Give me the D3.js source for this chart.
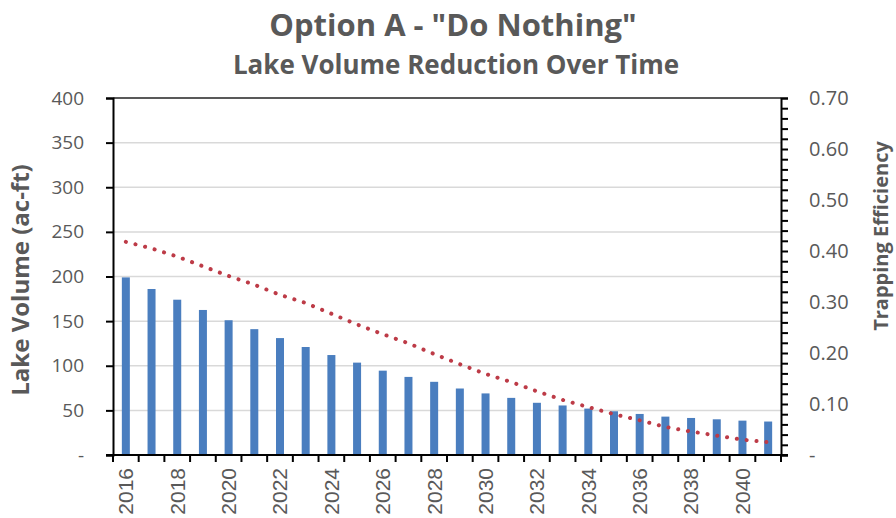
<!DOCTYPE html>
<html>
<head>
<meta charset="utf-8">
<style type="text/css">
    body { margin: 0; background: #fff; }
    text { fill: #595959; }
</style>
</head>
<body>
<svg width="896" height="518"></svg>
<script type="text/javascript" src="https://cdn.jsdelivr.net/npm/d3@7"></script>
<script type="text/javascript">

    // data
    let years = d3.range(2016, 2042);
    let volume = [199, 186, 174, 162.5, 151, 141, 131, 121, 112, 103.5, 94.5, 87.5, 82,
                  74.5, 69, 64, 58.5, 55.5, 52, 49, 46, 43, 41.5, 40, 38.5, 37.5];
    let trapEff = [0.418, 0.405, 0.389, 0.370, 0.351, 0.334, 0.314, 0.298, 0.277, 0.256,
                   0.237, 0.219, 0.198, 0.178, 0.159, 0.143, 0.125, 0.108, 0.094, 0.080,
                   0.068, 0.055, 0.046, 0.038, 0.030, 0.025];
    let leftTicks = [0, 50, 100, 150, 200, 250, 300, 350, 400];
    let rightTicks = [0, 0.1, 0.2, 0.3, 0.4, 0.5, 0.6, 0.7];

    // plot box (note: "top" is taken by window.top)
    var svg = d3.select("svg"),
        plotL = 113, plotR = 781, plotT = 98, plotB = 455;

    var x = d3.scaleBand().domain(years).range([plotL, plotR]).padding(0);
    var yL = d3.scaleLinear().domain([0, 400]).range([plotB, plotT]);
    var yR = d3.scaleLinear().domain([0, 0.7]).range([plotB, plotT]);

    // gridlines (top one is the dark plot edge)
    svg.append("g")
        .selectAll("line")
        .data(leftTicks.filter(d => d > 0))
        .enter().append("line")
        .attr("x1", plotL).attr("x2", plotR)
        .attr("y1", d => yL(d)).attr("y2", d => yL(d))
        .attr("stroke", d => d === 400 ? "#222" : "#d9d9d9")
        .attr("stroke-width", 1.5);

    // bars
    var bw = 8;
    svg.append("g")
        .selectAll("rect")
        .data(volume)
        .enter().append("rect")
        .attr("x", (d, i) => x(years[i]) + x.bandwidth() / 2 - bw / 2)
        .attr("y", d => yL(d))
        .attr("width", bw)
        .attr("height", d => plotB - yL(d))
        .attr("fill", "#4a7ebf");

    // trapping efficiency, dotted
    var line = d3.line()
        .x((d, i) => x(years[i]) + x.bandwidth() / 2)
        .y(d => yR(d));
    svg.append("path")
        .datum(trapEff)
        .attr("d", line)
        .attr("fill", "none")
        .attr("stroke", "#bd3b47")
        .attr("stroke-width", 4)
        .attr("stroke-linecap", "round")
        .attr("stroke-dasharray", "0.1 9.8");

    // left axis
    var axL = svg.append("g")
        .attr("transform", "translate(" + plotL + ",0)")
        .call(d3.axisLeft(yL).tickValues(leftTicks).tickSize(7).tickPadding(22)
            .tickFormat(d => d === 0 ? "-" : d));
    axL.select(".domain").attr("stroke", "#000").attr("stroke-width", 2);
    axL.selectAll(".tick line").attr("stroke", "#000").attr("stroke-width", 2);
    axL.selectAll("text").style("font-family", "Open Sans").style("font-size", "19px").attr("fill", "#595959");

    // right axis, minor ticks every 0.02
    var axR = svg.append("g")
        .attr("transform", "translate(" + plotR + ",0)")
        .call(d3.axisRight(yR).ticks(35).tickSize(7).tickFormat(""));
    axR.select(".domain").attr("stroke", "#000").attr("stroke-width", 2);
    axR.selectAll(".tick line").attr("stroke", "#000").attr("stroke-width", 2);
    svg.append("g")
        .selectAll("text")
        .data(rightTicks)
        .enter().append("text")
        .attr("x", plotR + 28)
        .attr("y", d => yR(d))
        .attr("dy", "0.35em")
        .style("font-family", "Open Sans").style("font-size", "20px")
        .text(d => d === 0 ? "-" : d.toFixed(2));

    // bottom axis
    var xTicks = d3.range(0, years.length + 1).map(i => plotL + i * x.bandwidth());
    svg.append("line")
        .attr("x1", plotL - 7).attr("x2", plotR + 7)
        .attr("y1", plotB).attr("y2", plotB)
        .attr("stroke", "#000").attr("stroke-width", 2);
    svg.append("g")
        .selectAll("line")
        .data(xTicks)
        .enter().append("line")
        .attr("x1", d => d).attr("x2", d => d)
        .attr("y1", plotB).attr("y2", plotB + 7)
        .attr("stroke", "#000").attr("stroke-width", 2);
    svg.append("g")
        .selectAll("text")
        .data(years.filter(d => d % 2 === 0))
        .enter().append("text")
        .attr("transform", d => "translate(" + (x(d) + x.bandwidth() / 2) + "," + (plotB + 13) + ") rotate(-90)")
        .attr("dy", "0.35em")
        .attr("text-anchor", "end")
        .style("font-family", "Liberation Sans").style("font-size", "21px")
        .text(d => d);

    // titles
    svg.append("text")
        .attr("x", 453).attr("y", 36)
        .attr("text-anchor", "middle")
        .style("font-family", "Open Sans").style("font-weight", "bold").style("font-size", "31px")
        .text('Option A - "Do Nothing"');
    svg.append("text")
        .attr("x", 456).attr("y", 74)
        .attr("text-anchor", "middle")
        .style("font-family", "Open Sans").style("font-weight", "bold").style("font-size", "26px")
        .text("Lake Volume Reduction Over Time");
    svg.append("text")
        .attr("transform", "translate(29,280) rotate(-90)")
        .attr("text-anchor", "middle")
        .style("font-family", "Open Sans").style("font-weight", "bold").style("font-size", "24px")
        .text("Lake Volume (ac-ft)");
    svg.append("text")
        .attr("transform", "translate(888,236) rotate(-90)")
        .attr("text-anchor", "middle")
        .style("font-family", "Open Sans").style("font-weight", "bold").style("font-size", "20px")
        .text("Trapping Efficiency");

</script>
</body>
</html>
